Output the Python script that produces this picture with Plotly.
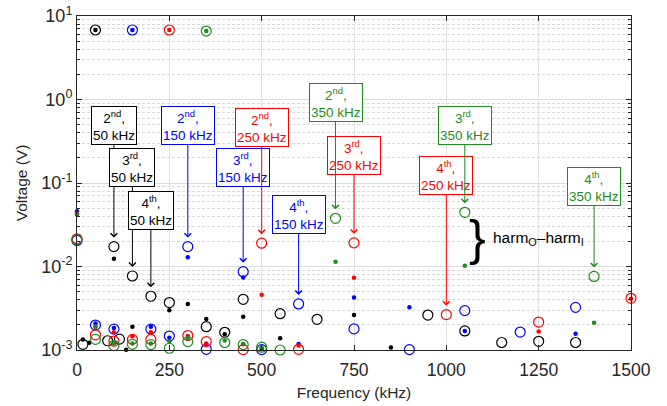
import math
import plotly.graph_objects as go

# ---------------- data (frequency in kHz, voltage in V) ----------------
# Black: 50 kHz fundamental
blk_out_f = [16, 50, 66, 83, 100, 115, 150, 200, 250, 350, 400, 450, 550, 650, 950, 1050, 1150, 1250, 1350]
blk_out_v = [0.00117, 6.8, 0.00098, 0.00129, 0.0173, 0.00135, 0.0077, 0.0044, 0.0037, 0.0019, 0.00163,
             0.00405, 0.00272, 0.00233, 0.00262, 0.00169, 0.00123, 0.00127, 0.00123]
blk_in_f = [16, 33, 50, 66, 100, 133, 150, 250, 300, 350, 400, 450, 550, 750, 850]
blk_in_v = [0.00134, 0.00122, 6.8, 0.00098, 0.0124, 0.00101, 0.0019, 0.0030, 0.00356, 0.00235, 0.00154,
            0.0025, 0.00138, 0.00262, 0.00107]

# Blue: 150 kHz fundamental
blu_out_f = [0, 50, 100, 150, 200, 250, 300, 350, 450, 500, 600, 750, 900, 1050, 1200, 1350]
blu_out_v = [0.0205, 0.00199, 0.00178, 6.8, 0.00178, 0.00147, 0.0173, 0.00102, 0.00867, 0.00101, 0.00356,
             0.00179, 0.00101, 0.00296, 0.00164, 0.00324]
blu_in_f = [0, 50, 100, 150, 200, 250, 300, 350, 400, 450, 500, 600, 750, 900, 1050, 1350]
blu_in_v = [0.046, 0.00208, 0.00183, 6.8, 0.0019, 0.0014, 0.0129, 0.00118, 0.00098, 0.0074, 0.00103,
            0.00118, 0.00424, 0.00324, 0.00169, 0.00156]

# Red: 250 kHz fundamental
red_out_f = [0, 50, 100, 150, 200, 250, 300, 350, 400, 450, 500, 600, 750, 1000, 1250, 1500]
red_out_v = [0.0215, 0.00152, 0.00128, 0.00134, 0.00134, 6.8, 0.00149, 0.00126, 0.00097, 0.00101, 0.019,
             0.00102, 0.0192, 0.00265, 0.00216, 0.00416]
red_in_f = [0, 50, 100, 150, 200, 250, 300, 350, 450, 500, 600, 750, 1250, 1500]
red_in_v = [0.043, 0.0019, 0.00163, 0.00146, 0.00163, 6.8, 0.00147, 0.0012, 0.00117, 0.0046, 0.00113,
            0.00734, 0.00167, 0.0041]

# Green: 350 kHz fundamental
grn_out_f = [0, 50, 100, 150, 200, 250, 300, 350, 400, 450, 500, 550, 700, 1050, 1400]
grn_out_v = [0.021, 0.00134, 0.00113, 0.00117, 0.00116, 0.00105, 0.00126, 6.6, 0.00123, 0.00116, 0.00108,
             0.00100, 0.0378, 0.0446, 0.0076]
grn_in_f = [0, 50, 100, 150, 200, 250, 300, 350, 400, 450, 500, 700, 1050, 1400]
grn_in_v = [0.042, 0.0019, 0.0012, 0.0012, 0.0012, 0.00126, 0.00137, 6.6, 0.0013, 0.00118, 0.00108,
            0.0114, 0.0102, 0.00212]

x_ticks = [0, 250, 500, 750, 1000, 1250, 1500]
y_ticks = [0.001, 0.01, 0.1, 1, 10]
y_ticktext = ["10<sup>-3</sup>", "10<sup>-2</sup>", "10<sup>-1</sup>", "10<sup>0</sup>", "10<sup>1</sup>"]

# harmonic labels: (series, target frequency, order text, fundamental text, box offset px)
labels = [
    ("k", 100, "2<sup>nd</sup>", "50 kHz", -121),
    ("k", 150, "3<sup>rd</sup>", "50 kHz", -108),
    ("k", 200, "4<sup>th</sup>", "50 kHz", -86),
    ("b", 300, "2<sup>nd</sup>", "150 kHz", -121),
    ("b", 450, "3<sup>rd</sup>", "150 kHz", -104),
    ("b", 600, "4<sup>th</sup>", "150 kHz", -89),
    ("r", 500, "2<sup>nd</sup>", "250 kHz", -116),
    ("r", 750, "3<sup>rd</sup>", "250 kHz", -87),
    ("r", 1000, "4<sup>th</sup>", "250 kHz", -139),
    ("g", 700, "2<sup>nd</sup>", "350 kHz", -116),
    ("g", 1050, "3<sup>rd</sup>", "350 kHz", -87),
    ("g", 1400, "4<sup>th</sup>", "350 kHz", -90),
]

colors = {"k": "#000000", "b": "#0000FF", "r": "#FF0000", "g": "#1E8C1E"}
series = {
    "k": (blk_out_f, blk_out_v, blk_in_f, blk_in_v),
    "b": (blu_out_f, blu_out_v, blu_in_f, blu_in_v),
    "r": (red_out_f, red_out_v, red_in_f, red_in_v),
    "g": (grn_out_f, grn_out_v, grn_in_f, grn_in_v),
}

FONT = "Liberation Sans, Arial, Helvetica, sans-serif"
fig = go.Figure()

for key in ["k", "b", "r", "g"]:
    of, ov, inf_, inv = series[key]
    c = colors[key]
    fig.add_trace(go.Scatter(x=of, y=ov, mode="markers", showlegend=False, cliponaxis=False,
                             marker=dict(symbol="circle-open", size=10, color=c, line=dict(width=1.2, color=c))))
    fig.add_trace(go.Scatter(x=inf_, y=inv, mode="markers", showlegend=False, cliponaxis=False,
                             marker=dict(symbol="circle", size=4.5, color=c, line=dict(width=0))))

annotations = []
for key, f, order, fund, ay in labels:
    of, ov = series[key][0], series[key][1]
    v = ov[of.index(f)]
    annotations.append(dict(
        x=f, y=math.log10(v), xref="x", yref="y",
        text=f"{order},<br>{fund}", showarrow=True, ax=0, ay=ay,
        arrowhead=4, arrowsize=1.3, arrowwidth=1, arrowcolor=colors[key], standoff=9,
        font=dict(family=FONT, size=13.5, color=colors[key]),
        bordercolor=colors[key], borderwidth=1, borderpad=1, bgcolor="white", align="center",
    ))

# brace and harm label
annotations.append(dict(x=1085, y=-1.66, xref="x", yref="y", text="}", showarrow=False,
                        font=dict(family=FONT, size=50, color="black"), xanchor="center", yanchor="middle"))
annotations.append(dict(x=1122, y=-1.66, xref="x", yref="y",
                        text="harm<sub>O</sub>\u2013harm<sub>I</sub>", showarrow=False,
                        font=dict(family=FONT, size=15.5, color="black"), xanchor="left", yanchor="middle"))

minor_vals = [m * 10 ** e for e in range(-3, 1) for m in range(2, 10)]

fig.update_layout(
    width=667, height=406,
    margin=dict(l=77, r=36, t=16, b=56),
    paper_bgcolor="white", plot_bgcolor="white",
    font=dict(family=FONT, color="#262626"),
    annotations=annotations,
    xaxis=dict(
        range=[0, 1500], tickvals=x_ticks, ticks="inside", ticklen=5, tickcolor="#262626",
        showline=True, linecolor="#262626", linewidth=1, mirror="ticks", automargin=False,
        showgrid=True, gridcolor="#e1e1e1", gridwidth=1, zeroline=False,
        tickfont=dict(size=17.5, color="#262626"), ticklabelstandoff=4, ticklabeloverflow="allow",
        title=dict(text="Frequency (kHz)", font=dict(size=15.5, color="#262626"), standoff=8),
    ),
    yaxis=dict(
        type="log", range=[-3, 1], tickvals=y_ticks, ticktext=y_ticktext, automargin=False,
        ticks="inside", ticklen=5, tickcolor="#262626", ticklabeloverflow="allow",
        showline=True, linecolor="#262626", linewidth=1, mirror="ticks",
        showgrid=True, gridcolor="#dcdcdc", gridwidth=1, zeroline=False,
        tickfont=dict(size=18, color="#262626"),
        minor=dict(tickvals=minor_vals, ticks="inside", ticklen=3, tickcolor="#262626",
                   showgrid=True, gridcolor="#d9d9d9", griddash="3px,2px", gridwidth=1),
        title=dict(text="Voltage (V)", font=dict(size=15.5, color="#262626"), standoff=9),
    ),
)

# remove the browser's default page margin so the figure fills the window exactly
fig.write_html("out.html", config={"displayModeBar": False},
               post_script="document.body.style.margin='0';document.body.style.overflow='hidden';")
